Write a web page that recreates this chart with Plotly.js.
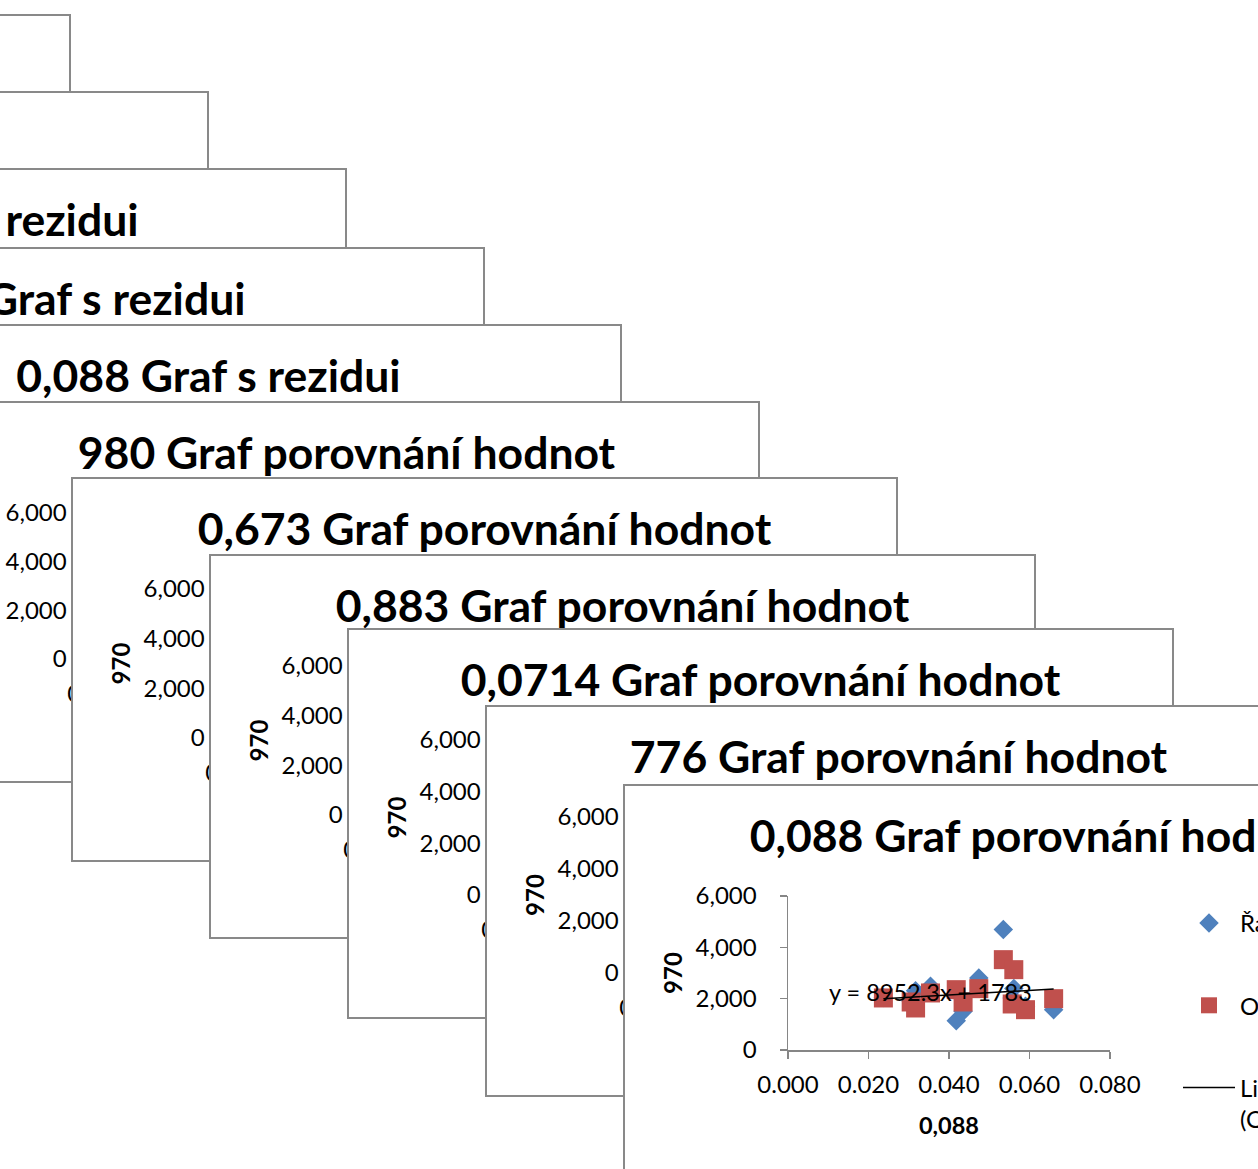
<!DOCTYPE html>
<html><head><meta charset="utf-8">
<script src="https://cdn.plot.ly/plotly-3.0.1.min.js"></script>
<style>
html,body{margin:0;padding:0;overflow:hidden;width:1258px;height:1169px;background:#fff;}
.win{position:absolute;background:#fff;border:2px solid #898989;box-sizing:border-box;}
.plot{position:absolute;left:-2px;top:-2px;}
</style></head><body>
<script>
// ---- data ----
const xValues    = [0.0237, 0.0306, 0.0317, 0.0354, 0.0418, 0.0435, 0.0474, 0.0535, 0.0561, 0.0557, 0.0590, 0.0660];
const observedY  = [2050,   1900,   2312,   2480,   1142,   1505,   2807,   4690,   2400,   2027,   1700,   1571];
const predictedY = [2027,   1871,   1637,   2222,   2351,   1871,   2390,   3520,   3130,   1793,   1571,   2000];
const trendSlope = 8952.3;
const trendIntercept = 1783;
const trendLabel = "y = 8952.3x + 1783";
const seriesNames = ["Řada1", "Očekávané 970", "Lineární<br>(Očekávané 970)"];
const yTitle = "970";
// window titles, front to back
const windowTitles = [
  "0,088 Graf porovnání hodnot",
  "776 Graf porovnání hodnot",
  "0,0714 Graf porovnání hodnot",
  "0,883 Graf porovnání hodnot",
  "0,673 Graf porovnání hodnot",
  "980 Graf porovnání hodnot",
  "0,088 Graf s rezidui",
  "776 Graf s rezidui",
  "0,0714 Graf s rezidui",
  "0,883 Graf s rezidui",
  "0,673 Graf s rezidui"
];
const xTitles = ["0,088", "776", "0,0714", "0,883", "0,673", "980"];

// ---- geometry / style ----
const W = 827;
const winLeft = [623, 485, 347, 209, 71, -67, -205, -342, -480, -618, -756];
const winTop  = [784, 705, 628, 554, 477, 401, 324, 247, 168, 91, 14];
const winH    = [390, 392, 391, 385, 385, 382, 386, 386, 386, 386, 386];
const FONT = "Lato, 'Open Sans', sans-serif";
const AXIS_COLOR = "#868686";

function axisBase() {
  return {
    showline: true, linecolor: AXIS_COLOR, linewidth: 1.5,
    ticks: "outside", ticklen: 7, tickcolor: AXIS_COLOR, tickwidth: 1.5,
    showgrid: false, zeroline: false, fixedrange: true,
    tickfont: {family: FONT, size: 24, color: "#000"}
  };
}

function buildWindow(i) {
  const H = winH[i];
  const div = document.createElement("div");
  div.className = "win";
  div.style.left = winLeft[i] + "px";
  div.style.top = winTop[i] + "px";
  div.style.width = W + "px";
  div.style.height = H + "px";
  div.style.zIndex = String(100 - i);
  const inner = document.createElement("div");
  inner.className = "plot";
  div.appendChild(inner);
  document.body.appendChild(div);

  const isFit = i < 6;
  const plotH = H - 236;
  const layout = {
    width: W, height: H,
    paper_bgcolor: "rgba(0,0,0,0)", plot_bgcolor: "rgba(0,0,0,0)",
    font: {family: FONT, color: "#000"},
    margin: {l: 165, r: W - 165 - 322, t: 112, b: H - 112 - plotH, pad: 0},
    title: {
      text: windowTitles[i],
      font: {family: FONT, size: 44.5, weight: "bold", color: "#000"},
      xref: "container", x: 0.5, xanchor: "center",
      yref: "container", y: 1 - 52 / H, yanchor: "middle"
    },
    showlegend: isFit && i === 0
  };
  let traces = [];
  if (isFit) {
    layout.xaxis = Object.assign(axisBase(), {
      range: [0, 0.08], dtick: 0.02, tick0: 0, tickformat: ".3f",
      ticklabelstandoff: 6,
      title: {text: xTitles[i], font: {family: FONT, size: 23.5, weight: "bold"}, standoff: 20}
    });
    layout.yaxis = Object.assign(axisBase(), {
      range: [0, 6000], dtick: 2000, tick0: 0, tickformat: ",d",
      ticklabelstandoff: 18,
      title: {text: yTitle, font: {family: FONT, size: 24, weight: "bold"}, standoff: 6}
    });
    layout.legend = {
      xref: "container", x: 555 / W, xanchor: "left",
      yref: "container", y: 1 - 117 / H, yanchor: "top",
      font: {family: FONT, size: 24, color: "#000"},
      itemwidth: 52, tracegroupgap: 48, traceorder: "grouped", valign: "top",
      bgcolor: "rgba(0,0,0,0)", maxheight: 600
    };
    if (i === 0) {
      const xMin = Math.min(...xValues), xMax = Math.max(...xValues);
      traces = [
        {type: "scatter", mode: "markers", x: xValues, y: observedY, name: seriesNames[0],
         legendgroup: "a", marker: {symbol: "diamond", size: 15, color: "#4F81BD"}},
        {type: "scatter", mode: "markers", x: xValues, y: predictedY, name: seriesNames[1],
         legendgroup: "b", marker: {symbol: "square", size: 19, color: "#C0504D"}},
        {type: "scatter", mode: "lines", x: [xMin, xMax],
         y: [trendSlope * xMin + trendIntercept, trendSlope * xMax + trendIntercept],
         name: seriesNames[2], legendgroup: "c", line: {color: "#000", width: 1.5}}
      ];
      layout.annotations = [{
        text: trendLabel, x: 0.0098, y: 2273, xref: "x", yref: "y",
        xanchor: "left", yanchor: "middle", showarrow: false,
        font: {family: FONT, size: 23.5, color: "#000"}
      }];
    }
  } else {
    layout.xaxis = {visible: false, range: [0, 1]};
    layout.yaxis = {visible: false, range: [0, 1]};
  }
  Plotly.newPlot(inner, traces, layout, {staticPlot: true, displayModeBar: false});
}

for (let i = windowTitles.length - 1; i >= 0; i--) buildWindow(i);
</script>
</body></html>
